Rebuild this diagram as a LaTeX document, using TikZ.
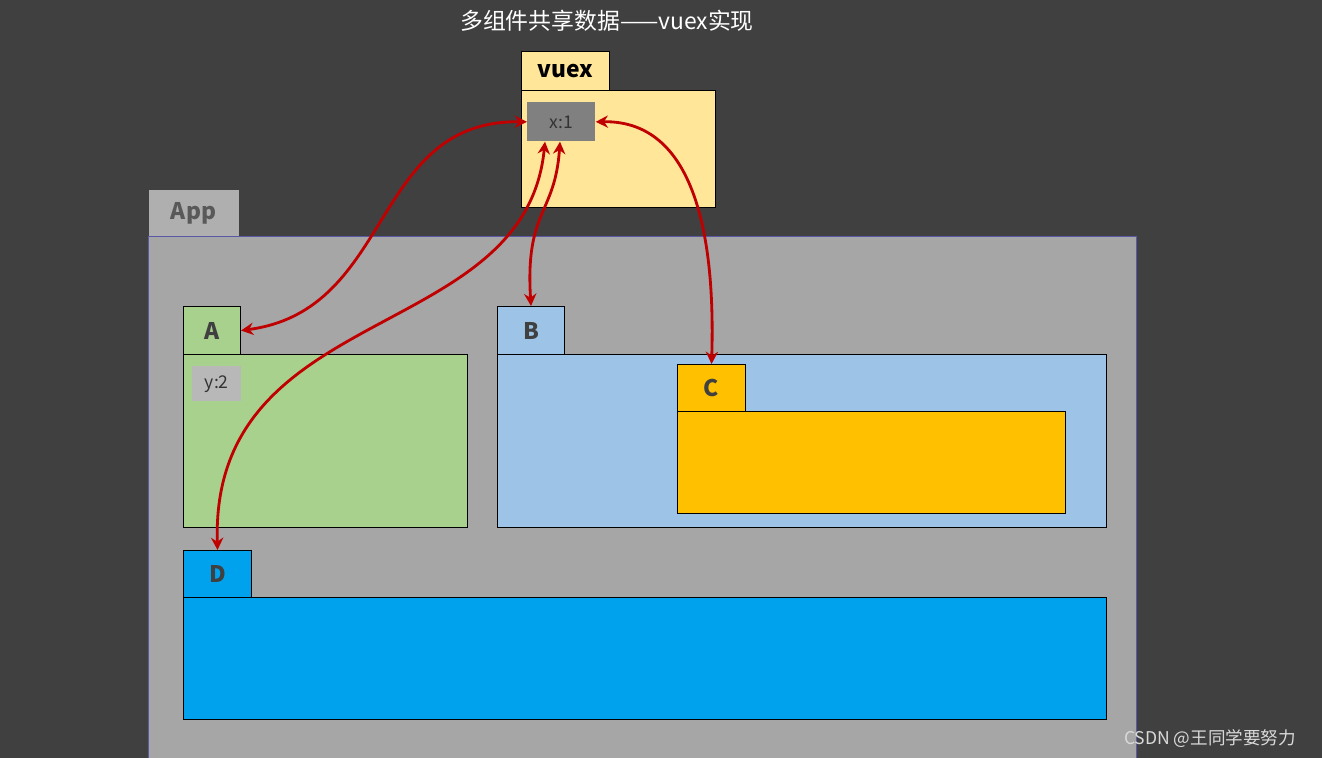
\documentclass[tikz,border=0pt]{standalone}
\usepackage{fontspec}
\setmainfont{Noto Sans CJK SC}
\usetikzlibrary{positioning, arrows.meta}
\definecolor{bgdark}{HTML}{404040}
\definecolor{appgray}{HTML}{A6A6A6}
\definecolor{vuexyellow}{HTML}{FFE699}
\definecolor{agreen}{HTML}{A9D18E}
\definecolor{bblue}{HTML}{9DC3E6}
\definecolor{corange}{HTML}{FFC000}
\definecolor{dblue}{HTML}{00A2EE}
\definecolor{arrowred}{HTML}{C00000}
\tikzset{
  box/.style={draw=black, line width=0.6pt, anchor=north west, inner sep=0pt},
  tablabel/.style={font=\fontsize{13}{15}\selectfont\bfseries, text=black!75},
  datumbox/.style={anchor=north west, inner sep=0pt, font=\fontsize{10}{12}\selectfont, text=black!80},
  link/.style={draw=arrowred, line width=1.6pt, {Stealth[length=7pt,width=7pt]}-{Stealth[length=7pt,width=7pt]}}
}
\begin{document}
\begin{tikzpicture}
  \fill[bgdark] (0,0) rectangle (26.44,-15.16);
  \useasboundingbox (0,0) rectangle (26.44,-15.16);

  \node (title) at (12.14,-0.42) [text=white, font=\fontsize{13}{15}\selectfont] {多组件共享数据——vuex实现};

  % vuex store
  \node (vuextab)[box, fill=vuexyellow, minimum width=1.76cm, minimum height=0.78cm, tablabel, text=black] at (10.42,-1.02) {vuex};
  \node (vuexbody)[box, fill=vuexyellow, minimum width=3.88cm, minimum height=2.34cm] at (10.42,-1.80) {};
  \node (x1)[datumbox, fill=black!50, minimum width=1.36cm, minimum height=0.78cm] at (10.54,-2.04) {x:1};

  % App
  \node (apptab)[box, draw=none, fill=appgray!90, minimum width=1.80cm, minimum height=0.94cm, tablabel, text=black!65] at (2.96,-3.78) {App};
  \node (appbody)[box, draw=blue!30!gray, fill=appgray, minimum width=19.76cm, minimum height=10.44cm] at (2.96,-4.72) {};

  % A
  \node (atab)[box, fill=agreen, minimum width=1.14cm, minimum height=0.96cm, tablabel] at (3.66,-6.12) {A};
  \node (abody)[box, fill=agreen, minimum width=5.68cm, minimum height=3.46cm] at (3.66,-7.08) {};
  \node (y2)[datumbox, fill=black!28, minimum width=0.98cm, minimum height=0.70cm] at (3.84,-7.32) {y:2};

  % B
  \node (btab)[box, fill=bblue, minimum width=1.34cm, minimum height=0.96cm, tablabel] at (9.94,-6.12) {B};
  \node (bbody)[box, fill=bblue, minimum width=12.18cm, minimum height=3.46cm] at (9.94,-7.08) {};

  % C
  \node (ctab)[box, fill=corange, minimum width=1.36cm, minimum height=0.94cm, tablabel] at (13.54,-7.28) {C};
  \node (cbody)[box, fill=corange, minimum width=7.76cm, minimum height=2.04cm] at (13.54,-8.22) {};

  % D
  \node (dtab)[box, fill=dblue, minimum width=1.36cm, minimum height=0.94cm, tablabel] at (3.66,-11.00) {D};
  \node (dbody)[box, fill=dblue, minimum width=18.46cm, minimum height=2.44cm] at (3.66,-11.94) {};

  \node (mark) at (24.2,-14.78) [text=white!85!black, font=\fontsize{10}{12}\selectfont] {CSDN @王同学要努力};

  % shared state links
  \draw[link] (x1.west) .. controls (7.4,-2.4) and (7.9,-6.2) .. (atab.east);
  \draw[link] ([xshift=0.66cm]x1.south west) .. controls (11.1,-4.3) and (10.5,-4.2) .. (btab.north);
  \draw[link] ([xshift=0.36cm]x1.south west) .. controls (10.5,-6.9) and (4.2,-6.0) .. (dtab.north);
  \draw[link] (x1.east) .. controls (14.0,-2.4) and (14.3,-5.0) .. (ctab.north);
\end{tikzpicture}
\end{document}
